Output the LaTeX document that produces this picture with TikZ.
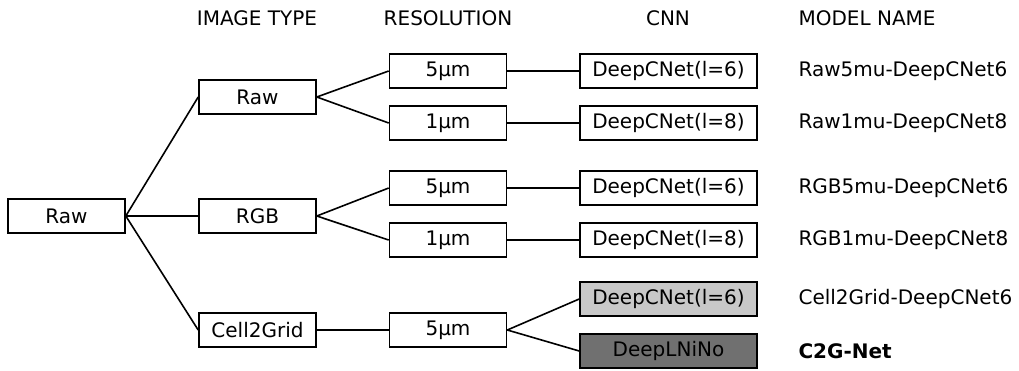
\documentclass[tikz,border=0pt]{standalone}
\usepackage{fontspec}
\setmainfont{DejaVu Sans}
\begin{document}
\begin{tikzpicture}[x=1pt,y=-1pt,
  font=\fontsize{20}{24}\selectfont,
  bx/.style={draw=black,line width=1.6pt,minimum height=34pt,inner sep=0pt,anchor=center},
  sm/.style={bx,minimum width=117pt},
  cn/.style={bx,minimum width=177pt},
  hd/.style={anchor=center},
  mn/.style={anchor=west},
  ln/.style={line width=1.6pt}]
\useasboundingbox (0,0) rectangle (1019,370);
% headers
\node[hd] (h1) at (257,18) {IMAGE TYPE};
\node[hd] (h2) at (448,18) {RESOLUTION};
\node[hd] (h3) at (668,18) {CNN};
\node[anchor=west] (h4) at (795,18) {MODEL NAME};
% root
\node[sm] (root) at (66.5,216) {Raw};
% image types
\node[sm] (iraw) at (257.5,97) {Raw};
\node[sm] (irgb) at (257.5,216) {RGB};
\node[sm] (ic2g) at (257.5,330) {Cell2Grid};
% resolutions
\node[sm] (r1) at (448,71) {5µm};
\node[sm] (r2) at (448,123) {1µm};
\node[sm] (r3) at (448,188) {5µm};
\node[sm] (r4) at (448,240) {1µm};
\node[sm] (r5) at (448,330) {5µm};
% cnn
\node[cn] (c1) at (668.5,71) {DeepCNet(l=6)};
\node[cn] (c2) at (668.5,123) {DeepCNet(l=8)};
\node[cn] (c3) at (668.5,188) {DeepCNet(l=6)};
\node[cn] (c4) at (668.5,240) {DeepCNet(l=8)};
\node[cn,fill={rgb,255:red,200;green,200;blue,200}] (c5) at (668.5,299) {DeepCNet(l=6)};
\node[cn,fill={rgb,255:red,112;green,112;blue,112}] (c6) at (668.5,351) {DeepLNiNo};
% model names
\node[mn] (m1) at (795,71) {Raw5mu-DeepCNet6};
\node[mn] (m2) at (795,123) {Raw1mu-DeepCNet8};
\node[mn] (m3) at (795,188) {RGB5mu-DeepCNet6};
\node[mn] (m4) at (795,240) {RGB1mu-DeepCNet8};
\node[mn] (m5) at (795,299) {Cell2Grid-DeepCNet6};
\node[mn] (m6) at (795,351) {\bfseries C2G-Net};
% connectors
\draw[ln] (root.east) -- (iraw.west);
\draw[ln] (root.east) -- (irgb.west);
\draw[ln] (root.east) -- (ic2g.west);
\draw[ln] (iraw.east) -- (r1.west);
\draw[ln] (iraw.east) -- (r2.west);
\draw[ln] (irgb.east) -- (r3.west);
\draw[ln] (irgb.east) -- (r4.west);
\draw[ln] (ic2g.east) -- (r5.west);
\draw[ln] (r1.east) -- (c1.west);
\draw[ln] (r2.east) -- (c2.west);
\draw[ln] (r3.east) -- (c3.west);
\draw[ln] (r4.east) -- (c4.west);
\draw[ln] (r5.east) -- (c5.west);
\draw[ln] (r5.east) -- (c6.west);
\end{tikzpicture}
\end{document}
